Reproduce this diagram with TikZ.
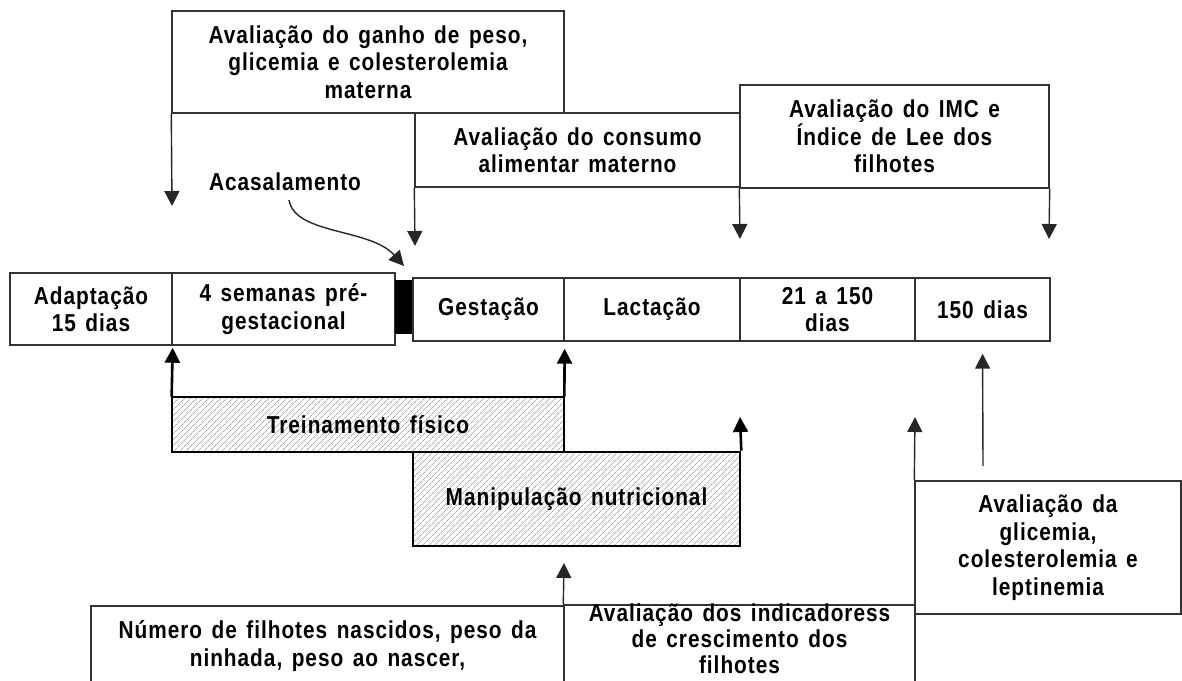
\documentclass[tikz,border=0pt]{standalone}
\usepackage{fontspec}
\newfontfamily\dfont{Liberation Sans}[FakeStretch=0.85,LetterSpace=4,WordSpace=1.4]
\usetikzlibrary{arrows.meta,patterns.meta}
\tikzset{
  txt/.style={inner sep=0pt, align=center, text=black,
    font=\dfont\bfseries\fontsize{24.5}{27.5}\selectfont},
  box/.style={txt, draw=black!80, line width=1.4pt},
  hatchbox/.style={txt, draw=black, line width=2.6pt,
    pattern={Lines[angle=45,distance=4pt,line width=0.7pt]}, pattern color=black!35},
  thinarr/.style={draw=black!85, line width=1.4pt, -{Triangle[width=15pt,length=15pt]}},
  thickarr/.style={draw=black, line width=2.6pt, -{Triangle[width=15pt,length=15pt]}},
}
\begin{document}
\begin{tikzpicture}[x=1pt,y=-1pt]
\useasboundingbox (0,0) rectangle (1182,680);
\clip (0,0) rectangle (1182,680);
% top boxes
\node[box, minimum width=392pt, minimum height=102pt] (b1) at (368,62)
  {Avaliação do ganho de peso,\\glicemia e colesterolemia\\materna};
\node[box, minimum width=325pt, minimum height=74pt] (b2) at (577.5,150)
  {Avaliação do consumo\\alimentar materno};
\node[box, minimum width=309pt, minimum height=103pt] (b3) at (894.5,136.5)
  {Avaliação do IMC e\\Índice de Lee dos\\filhotes};
\node[txt] (acas) at (285,182) {Acasalamento};
% timeline
\node[box, minimum width=162pt, minimum height=72pt] (tA1) at (91,309) {Adaptação\\15 dias};
\node[box, minimum width=223pt, minimum height=72pt] (tA2) at (283.5,309) {4 semanas pré-\\gestacional};
\node[fill=black, inner sep=0pt, minimum width=17pt, minimum height=54pt] (blk) at (403.5,307) {};
\node[box, minimum width=151pt, minimum height=63pt] (tB1) at (488.5,309.5) {Gestação};
\node[box, minimum width=176pt, minimum height=63pt] (tB2) at (652,309.5) {Lactação};
\node[box, minimum width=175pt, minimum height=63pt] (tB3) at (827.5,309.5) {21 a 150\\dias};
\node[box, minimum width=135pt, minimum height=63pt] (tB4) at (982.5,309.5) {150 dias};
% interventions
\node[hatchbox, minimum width=392pt, minimum height=55pt] (trein) at (368,424.5) {Treinamento físico};
\node[hatchbox, minimum width=327pt, minimum height=94pt] (manip) at (576.5,499) {Manipulação nutricional};
% bottom boxes
\node[box, minimum width=473pt, minimum height=80pt] (num) at (327.5,646)
  {Número de filhotes nascidos, peso da\\ninhada, peso ao nascer,};
\node[box, minimum width=351pt, minimum height=84pt] (indic) at (739.5,647) {};
\node[txt, font=\dfont\bfseries\fontsize{24.5}{26}\selectfont] (indicT) at (739.5,639)
  {Avaliação dos indicadoress\\de crescimento dos\\filhotes};
\node[box, minimum width=266pt, minimum height=133pt] (rbox) at (1048,547.5)
  {Avaliação da\\glicemia,\\colesterolemia e\\leptinemia};
% coordinates
\coordinate (d1) at (172,206);
\coordinate (d2) at (415,246);
\coordinate (d3) at (740,239);
\coordinate (d4) at (1049,239);
\coordinate (c1) at (289,200);
\coordinate (c2) at (404,266);
\coordinate (u3) at (740,417);
\coordinate (u4) at (564,563);
\coordinate (u5) at (915,417);
\coordinate (u6) at (983,466);
% connectors
\draw[thinarr] (b1.south west) -- (d1);
\draw[thinarr] (b2.south west) -- (d2);
\draw[thinarr] (b3.south west) -- (d3);
\draw[thinarr] (b3.south east) -- (d4);
\draw[thinarr] (c1) .. controls (295,235) and (370,228) .. (c2);
\draw[thickarr, shorten >=2pt] (trein.north west) -- (tA1.south east);
\draw[thickarr, shorten >=7pt] (trein.north east) -- (tB1.south east);
\draw[thickarr] (manip.north east) -- (u3);
\draw[thinarr] (indic.north west) -- (u4);
\draw[thinarr] (rbox.north west) -- (u5);
\draw[thinarr, shorten >=12pt] (u6) -- (tB4.south);
\end{tikzpicture}
\end{document}
